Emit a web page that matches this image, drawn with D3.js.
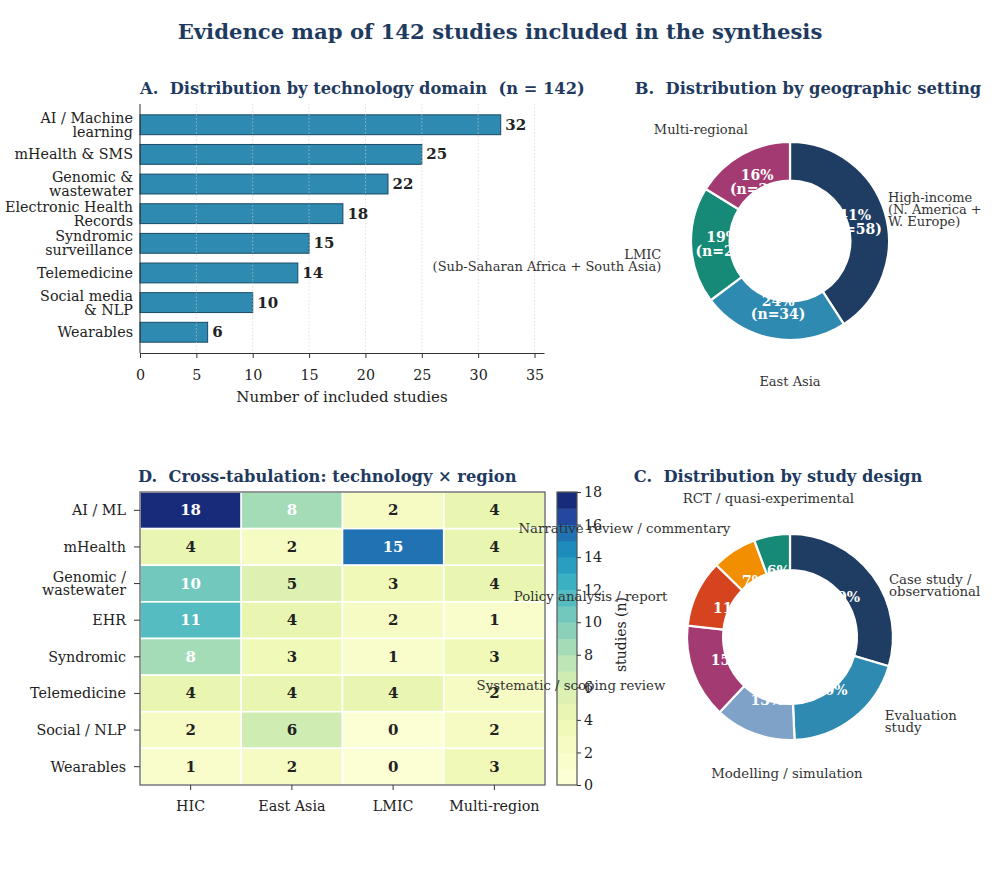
<!DOCTYPE html>
<html>
<head>
<meta charset="utf-8">
<script src="https://cdn.jsdelivr.net/npm/d3@7"></script>
<style>
  html, body { margin: 0; padding: 0; background: #ffffff; }
  svg text { font-family: "DejaVu Serif", serif; }
</style>
</head>
<body>
<div id="chart"></div>
<script>
// ---- Données ----
const techCategories = ["AI / Machine\nlearning", "mHealth & SMS", "Genomic &\nwastewater", "Electronic Health\nRecords",
    "Syndromic\nsurveillance", "Telemedicine", "Social media\n& NLP", "Wearables"];
const techCounts = [32, 25, 22, 18, 15, 14, 10, 6];
const techTicks = [0, 5, 10, 15, 20, 25, 30, 35];

const regionCategories = ["High-income\n(N. America +\nW. Europe)", "East Asia", "LMIC\n(Sub-Saharan Africa + South Asia)", "Multi-regional"];
const regionCounts = [58, 34, 27, 23];

const designCategories = ["Case study /\nobservational", "Evaluation\nstudy", "Modelling / simulation", "Systematic / scoping review",
    "Policy analysis / report", "Narrative review / commentary", "RCT / quasi-experimental"];
const designCounts = [42, 28, 18, 21, 15, 10, 8];

const heatRows = ["AI / ML", "mHealth", "Genomic /\nwastewater", "EHR", "Syndromic", "Telemedicine", "Social / NLP", "Wearables"];
const heatCols = ["HIC", "East Asia", "LMIC", "Multi-region"];
const heatValues = [
    [18, 8, 2, 4],
    [4, 2, 15, 4],
    [10, 5, 3, 4],
    [11, 4, 2, 1],
    [8, 3, 1, 3],
    [4, 4, 4, 2],
    [2, 6, 0, 2],
    [1, 2, 0, 3]
];
const colorbarTicks = [0, 2, 4, 6, 8, 10, 12, 14, 16, 18];

// ---- Style ----
const NAVY = "#1f3a5f";
const TICK_SIZE = 14.3;
const regionColors = ["#1f3d63", "#2e8ab0", "#178a77", "#a33a72"];
const designColors = ["#1f3d63", "#2e8ab0", "#7fa3c8", "#a33a72", "#d5441f", "#f18f01", "#178a77"];
// positions des étiquettes (en unités de rayon, relatives au centre)
const regionLabelPos = [
    { dx: 0.99, dy: -0.32, anchor: "start" },
    { dx: 0.0, dy: 1.42, anchor: "middle" },
    { dx: -1.30, dy: 0.20, anchor: "end" },
    { dx: -0.90, dy: -1.13, anchor: "middle" }
];
const designLabelPos = [
    { dx: 0.96, dy: -0.50, anchor: "start" },
    { dx: 0.92, dy: 0.82, anchor: "start" },
    { dx: -0.03, dy: 1.33, anchor: "middle" },
    { dx: -1.21, dy: 0.47, anchor: "end" },
    { dx: -1.19, dy: -0.39, anchor: "end" },
    { dx: -0.58, dy: -1.05, anchor: "end" },
    { dx: -0.21, dy: -1.34, anchor: "middle" }
];

const W = 1000, H = 872;
const svg = d3.select("#chart").append("svg")
    .attr("width", W).attr("height", H)
    .style("background", "#fff");

// texte multi-lignes centré verticalement sur y
function multiText(g, x, y, label, lineH, anchor, size, weight, color) {
    const lines = label.split("\n");
    const t = g.append("text")
        .attr("x", x).attr("y", y)
        .attr("text-anchor", anchor)
        .style("font-size", size + "px")
        .style("font-weight", weight || "normal")
        .attr("fill", color || "#222");
    const off = -(lines.length - 1) * lineH / 2;
    lines.forEach((l, i) => {
        t.append("tspan")
            .attr("x", x)
            .attr("y", y + off + i * lineH)
            .attr("dominant-baseline", "central")
            .text(l);
    });
    return t;
}

// ---- Titre principal ----
svg.append("text")
    .attr("x", 500).attr("y", 31)
    .attr("text-anchor", "middle")
    .attr("dominant-baseline", "central")
    .style("font-size", "21.2px").style("font-weight", "bold")
    .attr("fill", NAVY)
    .text("Evidence map of 142 studies included in the synthesis");

function panelTitle(x, y, txt, anchor) {
    svg.append("text")
        .attr("x", x).attr("y", y)
        .attr("text-anchor", anchor || "start")
        .attr("dominant-baseline", "central")
        .style("font-size", "16.3px").style("font-weight", "bold")
        .style("white-space", "pre")
        .attr("fill", NAVY)
        .text(txt);
}

// ---- A. Barres horizontales ----
(function drawBars() {
    const left = 140, right = 544, top = 104, bottom = 353;
    const x = d3.scaleLinear().domain([0, d3.max(techCounts) * 1.12]).range([left, right]);
    const y = d3.scaleBand().domain(techCategories).range([top, bottom])
        .paddingInner(0.33).paddingOuter(0.365);
    const g = svg.append("g");

    g.selectAll(".bar").data(techCategories).enter().append("rect")
        .attr("class", "bar")
        .attr("x", x(0))
        .attr("y", d => y(d))
        .attr("width", (d, i) => x(techCounts[i]) - x(0))
        .attr("height", y.bandwidth())
        .attr("fill", "#2e8ab0")
        .attr("stroke", "#1a4a66")
        .attr("stroke-width", 1);

    // grille
    g.selectAll(".grid").data(techTicks.slice(1)).enter().append("line")
        .attr("x1", d => x(d)).attr("x2", d => x(d))
        .attr("y1", top).attr("y2", bottom)
        .attr("stroke", "#cfcfcf").attr("stroke-width", 0.8)
        .attr("stroke-dasharray", "1.5,2").attr("opacity", 0.8);

    g.selectAll(".val").data(techCategories).enter().append("text")
        .attr("x", (d, i) => x(techCounts[i] + 0.4))
        .attr("y", d => y(d) + y.bandwidth() / 2)
        .attr("dominant-baseline", "central")
        .style("font-size", "15px").style("font-weight", "bold")
        .attr("fill", "#222")
        .text((d, i) => techCounts[i]);

    const xAxis = g.append("g")
        .attr("transform", `translate(0,${bottom})`)
        .call(d3.axisBottom(x).tickValues(techTicks).tickSize(5).tickSizeOuter(0).tickPadding(12));
    xAxis.select(".domain").attr("stroke", "#333");
    xAxis.selectAll(".tick line").attr("stroke", "#333");
    xAxis.selectAll("text").style("font-size", TICK_SIZE + "px").attr("fill", "#222")
        .style("font-family", "DejaVu Serif");

    g.append("line").attr("x1", left).attr("x2", left).attr("y1", top).attr("y2", bottom)
        .attr("stroke", "#333");

    techCategories.forEach(c => {
        multiText(g, left - 7, y(c) + y.bandwidth() / 2, c, 14, "end", TICK_SIZE, "normal", "#222");
    });

    g.append("text")
        .attr("x", (left + right) / 2).attr("y", 397)
        .attr("text-anchor", "middle").attr("dominant-baseline", "central")
        .style("font-size", "15px").attr("fill", "#222")
        .text("Number of included studies");

    panelTitle(140, 88, "A.  Distribution by technology domain  (n = 142)");
})();

// ---- Anneaux (B et C) ----
function drawDonut(cx, cy, R, holeRatio, pctRatio, cats, counts, colors, labelPos, showN, labelSize, lineH) {
    const total = d3.sum(counts);
    const pie = d3.pie().sort(null).value(d => d)(counts);
    const arc = d3.arc().innerRadius(R * holeRatio).outerRadius(R);
    const pctArc = d3.arc().innerRadius(R * pctRatio).outerRadius(R * pctRatio);
    const g = svg.append("g").attr("transform", `translate(${cx},${cy})`);

    g.selectAll("path").data(pie).enter().append("path")
        .attr("d", arc)
        .attr("fill", (d, i) => colors[i])
        .attr("stroke", "#fff").attr("stroke-width", 2.2);

    pie.forEach((d, i) => {
        const [px, py] = pctArc.centroid(d);
        const pct = Math.round(counts[i] / total * 100);
        const label = showN ? `${pct}%\n(n=${counts[i]})` : `${pct}%`;
        multiText(g, px, py, label, 13.5, "middle", 14, "bold", "#fff");
    });

    cats.forEach((c, i) => {
        const p = labelPos[i];
        multiText(g, p.dx * R, p.dy * R, c, lineH, p.anchor, labelSize, "normal", "#333");
    });
}

// ---- D. Heatmap ----
(function drawHeatmap() {
    const left = 140, right = 545, top = 492, bottom = 785;
    const x = d3.scaleBand().domain(heatCols).range([left, right]);
    const y = d3.scaleBand().domain(heatRows).range([top, bottom]);

    const brewer = ["#ffffd9", "#edf8b1", "#c7e9b4", "#7fcdbb", "#41b6c4", "#1d91c0", "#225ea8", "#253494", "#081d58"];
    const interp = d3.piecewise(d3.interpolateRgb, brewer);
    const tScale = d3.scaleLinear()
        .domain([0.5, 2.5, 4.5, 8.5, 10.5, 15.5, 17.5])
        .range([0.02, 0.07, 0.14, 0.31, 0.40, 0.70, 0.93]).clamp(true);
    const vmax = d3.max(heatValues.flat());
    const bandColor = b => interp(tScale(b + 0.5));
    const cellColor = v => bandColor(Math.min(Math.floor(v), vmax - 1));

    const g = svg.append("g");
    const cells = [];
    heatRows.forEach((r, i) => heatCols.forEach((c, j) => cells.push({ r, c, v: heatValues[i][j] })));

    g.selectAll(".cell").data(cells).enter().append("rect")
        .attr("x", d => x(d.c)).attr("y", d => y(d.r))
        .attr("width", x.bandwidth()).attr("height", y.bandwidth())
        .attr("fill", d => cellColor(d.v))
        .attr("stroke", "#fff").attr("stroke-width", 1.6);

    g.selectAll(".cellText").data(cells).enter().append("text")
        .attr("x", d => x(d.c) + x.bandwidth() / 2)
        .attr("y", d => y(d.r) + y.bandwidth() / 2)
        .attr("text-anchor", "middle").attr("dominant-baseline", "central")
        .style("font-size", "15px").style("font-weight", "bold")
        .attr("fill", d => d.v >= 8 ? "#fff" : "#222")
        .text(d => d.v);

    g.append("rect").attr("x", left).attr("y", top)
        .attr("width", right - left).attr("height", bottom - top)
        .attr("fill", "none").attr("stroke", "#555").attr("stroke-width", 1.2);

    const xAxis = g.append("g").attr("transform", `translate(0,${bottom})`)
        .call(d3.axisBottom(x).tickSize(5).tickSizeOuter(0).tickPadding(11));
    xAxis.select(".domain").remove();
    xAxis.selectAll(".tick line").attr("stroke", "#333");
    xAxis.selectAll("text").style("font-size", TICK_SIZE + "px").attr("fill", "#222")
        .style("font-family", "DejaVu Serif");

    const yAxis = g.append("g").attr("transform", `translate(${left},0)`)
        .call(d3.axisLeft(y).tickSize(6).tickSizeOuter(0).tickFormat(""));
    yAxis.select(".domain").remove();
    yAxis.selectAll(".tick line").attr("stroke", "#333");
    heatRows.forEach(r => {
        multiText(g, left - 14, y(r) + y.bandwidth() / 2, r, 13.5, "end", TICK_SIZE, "normal", "#222");
    });

    // barre de couleur
    const cbX = 557, cbW = 20;
    const cb = d3.scaleLinear().domain([0, vmax]).range([bottom, top]);
    const bands = d3.range(vmax);
    g.selectAll(".cb").data(bands).enter().append("rect")
        .attr("x", cbX).attr("y", d => cb(d + 1))
        .attr("width", cbW).attr("height", d => cb(d) - cb(d + 1) + 0.5)
        .attr("fill", d => bandColor(d));
    g.append("rect").attr("x", cbX).attr("y", top).attr("width", cbW).attr("height", bottom - top)
        .attr("fill", "none").attr("stroke", "#555").attr("stroke-width", 1.2);
    const cbAxis = g.append("g").attr("transform", `translate(${cbX + cbW},0)`)
        .call(d3.axisRight(cb).tickValues(colorbarTicks).tickSize(4).tickSizeOuter(0).tickPadding(3));
    cbAxis.select(".domain").remove();
    cbAxis.selectAll(".tick line").attr("stroke", "#333");
    cbAxis.selectAll("text").style("font-size", TICK_SIZE + "px").attr("fill", "#222")
        .style("font-family", "DejaVu Serif");
    g.append("text")
        .attr("transform", `translate(621,${(top + bottom) / 2 - 4}) rotate(-90)`)
        .attr("text-anchor", "middle").attr("dominant-baseline", "central")
        .style("font-size", "14px").attr("fill", "#222")
        .text("studies (n)");

    panelTitle(138, 476, "D.  Cross-tabulation: technology \u00d7 region");
})();

drawDonut(790, 241, 99, 0.61, 0.68, regionCategories, regionCounts, regionColors, regionLabelPos, true, 13, 11.8);
panelTitle(808, 88, "B.  Distribution by geographic setting", "middle");

drawDonut(790, 637, 103, 0.65, 0.65, designCategories, designCounts, designColors, designLabelPos, false, 13.3, 12.8);
panelTitle(778, 476, "C.  Distribution by study design", "middle");
</script>
</body>
</html>
